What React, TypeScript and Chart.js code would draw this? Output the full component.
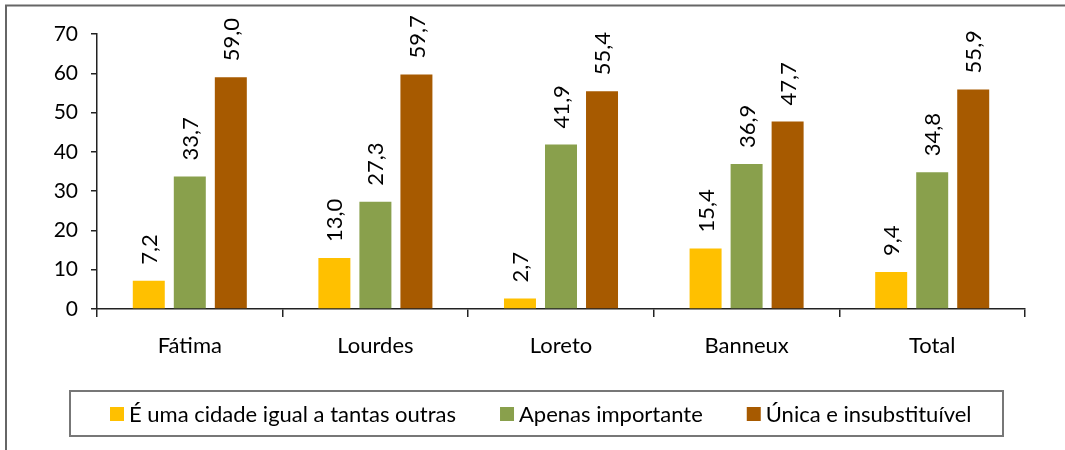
import React, { useEffect, useRef } from "react";
import { Chart, registerables } from "chart.js";

Chart.register(...registerables);

const categories = ["Fátima", "Lourdes", "Loreto", "Banneux", "Total"];
const seriesNames = [
  "É uma cidade igual a tantas outras",
  "Apenas importante",
  "Única e insubstituível",
];
const cidadeIgual = [7.2, 13.0, 2.7, 15.4, 9.4];
const apenasImportante = [33.7, 27.3, 41.9, 36.9, 34.8];
const unicaInsubstituivel = [59.0, 59.7, 55.4, 47.7, 55.9];
const seriesColors = ["#FFC000", "#89A04C", "#A75A00"];
const yTicks = [0, 10, 20, 30, 40, 50, 60, 70];

const FONT = "Lato, 'Open Sans', sans-serif";
const TEXT = "#000";

const framePlugin = {
  id: "frame",
  beforeDraw(chart: any) {
    const ctx = chart.ctx;
    ctx.save();
    ctx.strokeStyle = "#666";
    ctx.lineWidth = 2;
    ctx.beginPath();
    ctx.moveTo(6, 450);
    ctx.lineTo(6, 5.5);
    ctx.lineTo(1065, 5.5);
    ctx.stroke();
    ctx.restore();
  },
};

const valueLabels = {
  id: "valueLabels",
  afterDatasetsDraw(chart: any) {
    const ctx = chart.ctx;
    ctx.save();
    ctx.font = `22px ${FONT}`;
    ctx.fillStyle = TEXT;
    ctx.textAlign = "left";
    ctx.textBaseline = "middle";
    chart.data.datasets.forEach((ds: any, di: number) => {
      const meta = chart.getDatasetMeta(di);
      meta.data.forEach((bar: any, i: number) => {
        const v = ds.data[i];
        const txt = v.toFixed(1).replace(".", ",");
        ctx.save();
        ctx.translate(bar.x + 1, bar.y - 16);
        ctx.rotate(-Math.PI / 2);
        ctx.fillText(txt, 0, 0);
        ctx.restore();
      });
    });
    ctx.restore();
  },
};

const boxLegend = {
  id: "boxLegend",
  afterDraw(chart: any) {
    const ctx = chart.ctx;
    ctx.save();
    ctx.strokeStyle = "#777";
    ctx.lineWidth = 2;
    ctx.strokeRect(70, 391, 933, 45);
    ctx.font = `22px ${FONT}`;
    ctx.textBaseline = "middle";
    ctx.textAlign = "left";
    let x = 110;
    const cy = 414;
    chart.data.datasets.forEach((ds: any) => {
      ctx.fillStyle = ds.backgroundColor;
      ctx.fillRect(x, cy - 7, 14, 14);
      ctx.fillStyle = TEXT;
      ctx.fillText(ds.label, x + 19, cy + 1);
      x += 19 + ctx.measureText(ds.label).width + 44;
    });
    ctx.restore();
  },
};

export default function App() {
  const ref = useRef<HTMLCanvasElement | null>(null);
  useEffect(() => {
    if (!ref.current) return;
    const values = [cidadeIgual, apenasImportante, unicaInsubstituivel];
    const chart = new Chart(ref.current, {
      type: "bar",
      data: {
        labels: categories,
        datasets: seriesNames.map((name, i) => ({
          label: name,
          data: values[i],
          backgroundColor: seriesColors[i],
          borderWidth: 0,
          categoryPercentage: 0.663,
          barPercentage: 0.78,
        })),
      },
      options: {
        animation: false,
        responsive: false,
        layout: { padding: { left: 0, right: 40, top: 34, bottom: 81 } },
        plugins: {
          legend: { display: false },
          tooltip: { enabled: false },
        },
        scales: {
          x: {
            grid: {
              offset: true,
              drawOnChartArea: false,
              drawTicks: true,
              tickLength: 8,
              color: "#222",
              lineWidth: 1.5,
            },
            border: { display: true, color: "#222", width: 1.5 },
            ticks: {
              color: TEXT,
              font: { family: FONT, size: 22 },
              padding: 16,
            },
            afterFit(scale: any) {
              scale.height = 60;
            },
          },
          y: {
            min: 0,
            max: 70,
            afterBuildTicks(scale: any) {
              scale.ticks = yTicks.map((v) => ({ value: v }));
            },
            grid: {
              drawOnChartArea: false,
              drawTicks: true,
              tickLength: 6,
              color: "#222",
              lineWidth: 1.5,
            },
            border: { display: true, color: "#222", width: 1.5 },
            ticks: {
              color: TEXT,
              font: { family: FONT, size: 21 },
              padding: 13,
            },
            afterFit(scale: any) {
              scale.width = 97;
            },
          },
        },
      },
      plugins: [framePlugin, valueLabels, boxLegend],
    });
    return () => chart.destroy();
  }, []);
  return (
    <div style={{ position: "fixed", left: 0, top: 0, width: 1065, height: 450, background: "#fff" }}>
      <canvas ref={ref} width={1065} height={450} style={{ display: "block" }} />
    </div>
  );
}
